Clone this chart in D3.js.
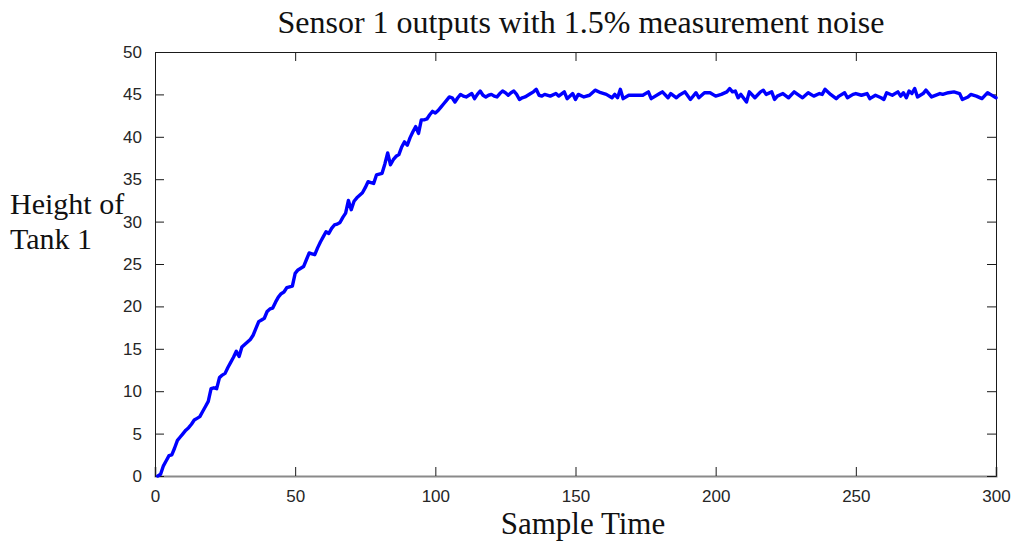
<!DOCTYPE html>
<html lang="en">
<head>
<meta charset="UTF-8">
<title>Sensor 1 outputs</title>
<script src="https://d3js.org/d3.v7.min.js"></script>
<style>
  body { margin: 0; background: #fff; }
  .tick text { font-family: "Liberation Sans", Arial, sans-serif; font-size: 17px; fill: #262626; }
  .serif { font-family: "Liberation Serif", "DejaVu Serif", serif; fill: #111; }
</style>
</head>
<body>
<div id="chart"></div>
<script>
// sample index
const sampleTime = [
  1, 2, 3, 4, 5, 6, 7, 8, 9, 10, 11, 12, 13, 14, 15, 16, 17, 18, 19, 20,
  21, 22, 23, 24, 25, 26, 27, 28, 29, 30, 31, 32, 33, 34, 35, 36, 37, 38, 39, 40,
  41, 42, 43, 44, 45, 46, 47, 48, 49, 50, 51, 52, 53, 54, 55, 56, 57, 58, 59, 60,
  61, 62, 63, 64, 65, 66, 67, 68, 69, 70, 71, 72, 73, 74, 75, 76, 77, 78, 79, 80,
  81, 82, 83, 84, 85, 86, 87, 88, 89, 90, 91, 92, 93, 94, 95, 96, 97, 98, 99, 100,
  101, 102, 103, 104, 105, 106, 107, 108, 109, 110, 111, 112, 113, 114, 115, 116, 117, 118, 119, 120,
  121, 122, 123, 124, 125, 126, 127, 128, 129, 130, 131, 132, 133, 134, 135, 136, 137, 138, 139,
  141, 143, 144, 146, 147, 149, 150, 151, 153, 155, 157, 159, 161, 163, 164, 165, 166, 167, 169,
  171, 174, 176, 177, 180, 181, 183, 184, 186, 187, 189, 191, 193, 194, 196, 198, 200,
  202, 204, 205, 206, 207, 208, 209, 211, 212, 214, 216, 217, 218, 220, 221, 222, 224, 226, 228,
  231, 233, 235, 237, 238, 239, 241, 243, 244, 246, 247, 249, 250, 252, 254, 255, 257, 259, 260,
  261, 263, 265, 266, 267, 268, 269, 270, 271, 272, 274, 275, 277, 280, 281, 283, 285, 287, 288,
  290, 291, 293, 295, 297, 298, 300
];
// tank 1 height from sensor 1
const tankHeight = [
  0.0, 0.2, 1.2, 1.8, 2.4, 2.5, 3.3, 4.2, 4.6, 5.0, 5.4, 5.7, 6.1, 6.6, 6.8, 7.0, 7.6, 8.2, 8.8, 10.3,
  10.4, 10.3, 11.6, 11.9, 12.1, 12.8, 13.4, 14.0, 14.7, 14.1, 15.2, 15.5, 15.8, 16.1, 16.6, 17.4, 18.2, 18.4, 18.6, 19.4,
  19.7, 19.8, 20.5, 21.1, 21.5, 21.7, 22.2, 22.3, 22.4, 23.9, 24.3, 24.5, 24.7, 25.5, 26.3, 26.2, 26.1, 26.9, 27.6, 28.2,
  28.8, 28.6, 29.2, 29.6, 29.7, 29.9, 30.5, 31.0, 32.5, 31.4, 32.4, 32.8, 33.1, 33.4, 34.0, 34.7, 34.6, 34.5, 35.5, 35.6,
  35.7, 36.8, 38.1, 36.7, 37.3, 37.7, 37.9, 38.8, 39.4, 39.0, 39.9, 40.6, 41.2, 40.4, 42.0, 42.0, 42.1, 42.6, 43.0, 42.8,
  43.1, 43.5, 43.9, 44.3, 44.7, 44.6, 44.1, 44.6, 45.0, 44.8, 44.7, 44.9, 45.1, 44.5, 45.0, 45.4, 44.9, 44.7, 44.9, 45.0,
  44.8, 44.7, 45.1, 45.4, 45.2, 44.9, 45.2, 45.4, 45.0, 44.4, 44.6, 44.7, 44.9, 45.1, 45.3, 45.6, 44.9, 44.8, 45.0,
  44.8, 45.1, 44.8, 45.3, 44.5, 45.1, 44.4, 45.0, 44.7, 44.9, 45.5, 45.2, 45.0, 44.6, 45.0, 44.6, 45.6, 44.5, 44.9,
  44.9, 44.9, 45.3, 44.5, 45.1, 45.3, 44.6, 45.1, 44.6, 44.9, 45.3, 44.4, 45.2, 44.6, 45.2, 45.2, 44.8,
  45.0, 45.3, 45.7, 45.3, 45.4, 44.6, 45.0, 44.1, 45.3, 44.6, 45.3, 45.5, 45.0, 45.3, 44.4, 44.8, 45.1, 44.6, 45.3,
  44.6, 45.2, 44.8, 45.1, 45.0, 45.6, 45.0, 44.5, 44.8, 45.2, 44.6, 45.0, 45.1, 44.9, 45.1, 44.5, 44.9, 44.6, 44.4,
  45.2, 44.9, 45.3, 44.8, 45.2, 44.6, 45.4, 45.1, 45.7, 44.7, 45.1, 45.5, 44.7, 45.1, 45.0, 45.2, 45.3, 45.1, 44.4,
  44.7, 45.0, 44.8, 44.5, 45.2, 45.0, 44.6
];
const xTicks = [0, 50, 100, 150, 200, 250, 300];
const yTicks = [0, 5, 10, 15, 20, 25, 30, 35, 40, 45, 50];

const W = 1019, H = 544;
const margin = { top: 52, right: 23, bottom: 68, left: 155 };
const width = W - margin.left - margin.right;
const height = H - margin.top - margin.bottom;

const svg = d3.select("#chart").append("svg")
  .attr("width", W)
  .attr("height", H);

const g = svg.append("g")
  .attr("transform", "translate(" + margin.left + "," + margin.top + ")");

const xScale = d3.scaleLinear().domain([0, 300]).range([0, width]);
const yScale = d3.scaleLinear().domain([0, 50]).range([height, 0]);

const data = sampleTime.map((t, i) => ({ t: t, h: tankHeight[i] }));

// axes, ticks pointing inwards like matlab
const tickLen = 9;
const xAxis = g.append("g")
  .attr("transform", "translate(0," + height + ")")
  .call(d3.axisBottom(xScale).tickValues(xTicks).tickSize(-tickLen).tickPadding(tickLen + 5));
const xTop = g.append("g")
  .call(d3.axisTop(xScale).tickValues(xTicks).tickSize(-tickLen).tickFormat(""));
const yAxis = g.append("g")
  .call(d3.axisLeft(yScale).tickValues(yTicks).tickSize(-tickLen).tickPadding(tickLen + 4));
const yRight = g.append("g")
  .attr("transform", "translate(" + width + ",0)")
  .call(d3.axisRight(yScale).tickValues(yTicks).tickSize(-tickLen).tickFormat(""));

[xAxis, xTop, yAxis, yRight].forEach(a => {
  a.select(".domain").attr("stroke", "#1a1a1a");
  a.selectAll(".tick line").attr("stroke", "#1a1a1a");
});
xAxis.select(".domain").attr("stroke", "#8a8a8a").attr("stroke-width", 2);
xAxis.selectAll(".tick text").attr("dy", "0.71em");

// the sensor line
const line = d3.line()
  .x(d => xScale(d.t))
  .y(d => yScale(d.h));

g.append("path")
  .datum(data)
  .attr("fill", "none")
  .attr("stroke", "#0000ff")
  .attr("stroke-width", 3.4)
  .attr("stroke-linejoin", "round")
  .attr("stroke-linecap", "round")
  .attr("d", line);

// titles
svg.append("text")
  .attr("class", "serif")
  .attr("x", 581).attr("y", 33)
  .attr("text-anchor", "middle")
  .attr("font-size", 32)
  .text("Sensor 1 outputs with 1.5% measurement noise");

svg.append("text")
  .attr("class", "serif")
  .attr("x", 583).attr("y", 534)
  .attr("text-anchor", "middle")
  .attr("font-size", 31)
  .text("Sample Time");

const yl = svg.append("text")
  .attr("class", "serif")
  .attr("x", 10).attr("y", 214)
  .attr("font-size", 30);
yl.append("tspan").attr("x", 10).text("Height of");
yl.append("tspan").attr("x", 10).attr("dy", 35).text("Tank 1");
</script>
</body>
</html>
